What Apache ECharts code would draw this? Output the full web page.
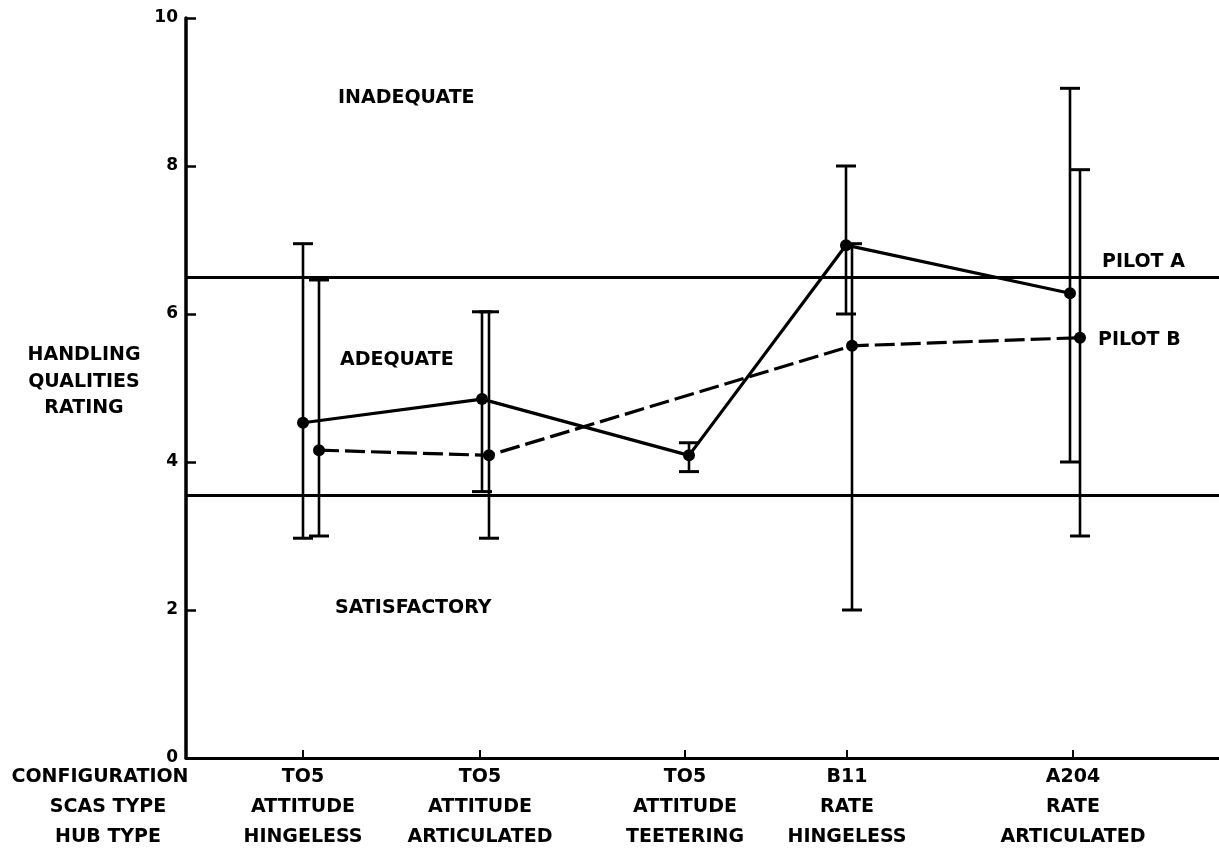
<!DOCTYPE html>
<html>
<head>
<meta charset="utf-8">
<title>Handling Qualities Rating</title>
<script src="https://cdn.jsdelivr.net/npm/echarts@6/dist/echarts.min.js"></script>
<style>
  html, body { margin: 0; padding: 0; background: #fff; }
  #main { width: 1219px; height: 853px; }
</style>
</head>
<body>
<div id="main"></div>
<script>
// Configurations tested (three label rows under the axis)
const configuration = ['TO5', 'TO5', 'TO5', 'B11', 'A204'];
const scasType = ['ATTITUDE', 'ATTITUDE', 'ATTITUDE', 'RATE', 'RATE'];
const hubType = ['HINGELESS', 'ARTICULATED', 'TEETERING', 'HINGELESS', 'ARTICULATED'];
// Position of each configuration along the horizontal axis
const configPos = [0.585, 1.47, 2.495, 3.305, 4.435];
const xMax = 5.165;

// Pilot A: mean rating and range
const pilotAPos = [0.585, 1.48, 2.515, 3.30, 4.42];
const pilotAMean = [4.53, 4.85, 4.09, 6.93, 6.28];
const pilotALow = [2.97, 3.6, 3.87, 6.0, 4.0];
const pilotAHigh = [6.95, 6.03, 4.26, 8.0, 9.05];

// Pilot B: mean rating and range (not flown on the teetering rotor)
const pilotBPos = [0.665, 1.515, null, 3.33, 4.47];
const pilotBMean = [4.16, 4.09, null, 5.57, 5.68];
const pilotBLow = [3.0, 2.97, null, 2.0, 3.0];
const pilotBHigh = [6.46, 6.03, null, 6.95, 7.95];

// Rating boundaries: satisfactory / adequate / inadequate
const boundaries = [6.5, 3.55];

const yTicks = [0, 2, 4, 6, 8, 10];

const FONT = 'DejaVu Sans';
const FS = 19;

function pairs(xs, ys) {
  const out = [];
  xs.forEach((x, i) => { if (x !== null && ys[i] !== null) out.push([x, ys[i]]); });
  return out;
}
function ranges(xs, lo, hi) {
  const out = [];
  xs.forEach((x, i) => { if (x !== null) out.push([x, lo[i], hi[i]]); });
  return out;
}

function renderErrorBar(params, api) {
  const x = api.value(0);
  const lo = api.coord([x, api.value(1)]);
  const hi = api.coord([x, api.value(2)]);
  const half = 10;
  return {
    type: 'group',
    children: [
      { type: 'line', shape: { x1: hi[0], y1: hi[1], x2: lo[0], y2: lo[1] }, style: { stroke: '#000', lineWidth: 2.6 } },
      { type: 'line', shape: { x1: hi[0] - half, y1: hi[1], x2: hi[0] + half, y2: hi[1] }, style: { stroke: '#000', lineWidth: 3 } },
      { type: 'line', shape: { x1: lo[0] - half, y1: lo[1], x2: lo[0] + half, y2: lo[1] }, style: { stroke: '#000', lineWidth: 3 } }
    ]
  };
}

function nearestIndex(v) {
  let best = 0, d = Infinity;
  configPos.forEach((p, i) => { const dd = Math.abs(p - v); if (dd < d) { d = dd; best = i; } });
  return best;
}

const chart = echarts.init(document.getElementById('main'));

const textStyle = (x, y, text, align) => ({
  type: 'text',
  silent: true,
  style: {
    x: x, y: y, text: text,
    align: align || 'left', verticalAlign: 'middle',
    fontFamily: FONT, fontWeight: 'bold', fontSize: FS, fill: '#000'
  }
});

chart.setOption({
  animation: false,
  backgroundColor: '#fff',
  grid: { left: 186, right: 0, top: 18, bottom: 95 },
  xAxis: {
    type: 'value',
    min: 0,
    max: xMax,
    splitLine: { show: false },
    axisLine: { show: true, lineStyle: { color: '#000', width: 3 } },
    axisTick: {
      show: true, inside: true, length: 8,
      lineStyle: { color: '#000', width: 2 },
      customValues: configPos
    },
    axisLabel: {
      customValues: configPos,
      margin: 4,
      lineHeight: 30,
      color: '#000',
      fontFamily: FONT,
      fontWeight: 'bold',
      fontSize: FS,
      formatter: function (v) {
        const i = nearestIndex(v);
        return configuration[i] + '\n' + scasType[i] + '\n' + hubType[i];
      }
    }
  },
  yAxis: {
    type: 'value',
    min: 0,
    max: 10,
    interval: 2,
    splitLine: { show: false },
    axisLine: { show: true, lineStyle: { color: '#000', width: 3.5 } },
    axisTick: { show: true, inside: true, length: 10, lineStyle: { color: '#000', width: 2.5 } },
    axisLabel: {
      margin: 8,
      color: '#000',
      fontFamily: FONT,
      fontWeight: 'bold',
      fontSize: 17,
      formatter: function (v) { return yTicks.indexOf(v) >= 0 ? String(v) : ''; }
    }
  },
  series: [
    {
      name: 'Pilot A range',
      type: 'custom',
      renderItem: renderErrorBar,
      encode: { x: 0, y: [1, 2] },
      data: ranges(pilotAPos, pilotALow, pilotAHigh),
      z: 3
    },
    {
      name: 'Pilot B range',
      type: 'custom',
      renderItem: renderErrorBar,
      encode: { x: 0, y: [1, 2] },
      data: ranges(pilotBPos, pilotBLow, pilotBHigh),
      z: 3
    },
    {
      name: 'PILOT A',
      type: 'line',
      data: pairs(pilotAPos, pilotAMean),
      symbol: 'circle',
      symbolSize: 12,
      itemStyle: { color: '#000' },
      lineStyle: { color: '#000', width: 3.2, type: 'solid' },
      z: 4,
      markLine: {
        silent: true,
        symbol: ['none', 'none'],
        label: { show: false },
        lineStyle: { color: '#000', width: 3, type: 'solid' },
        data: boundaries.map(v => ({ yAxis: v }))
      }
    },
    {
      name: 'PILOT B',
      type: 'line',
      data: pairs(pilotBPos, pilotBMean),
      symbol: 'circle',
      symbolSize: 12,
      itemStyle: { color: '#000' },
      lineStyle: { color: '#000', width: 3.2, type: [20, 6] },
      z: 4
    }
  ],
  graphic: [
    // region names
    textStyle(338, 98, 'INADEQUATE'),
    textStyle(340, 360, 'ADEQUATE'),
    textStyle(335, 608, 'SATISFACTORY'),
    // pilot names
    textStyle(1102, 262, 'PILOT A'),
    textStyle(1098, 340, 'PILOT B'),
    // vertical axis title
    textStyle(84, 355, 'HANDLING', 'center'),
    textStyle(84, 382, 'QUALITIES', 'center'),
    textStyle(84, 408, 'RATING', 'center'),
    // row headings for the configuration labels
    textStyle(100, 777, 'CONFIGURATION', 'center'),
    textStyle(108, 807, 'SCAS TYPE', 'center'),
    textStyle(108, 837, 'HUB TYPE', 'center')
  ]
});
</script>
</body>
</html>
